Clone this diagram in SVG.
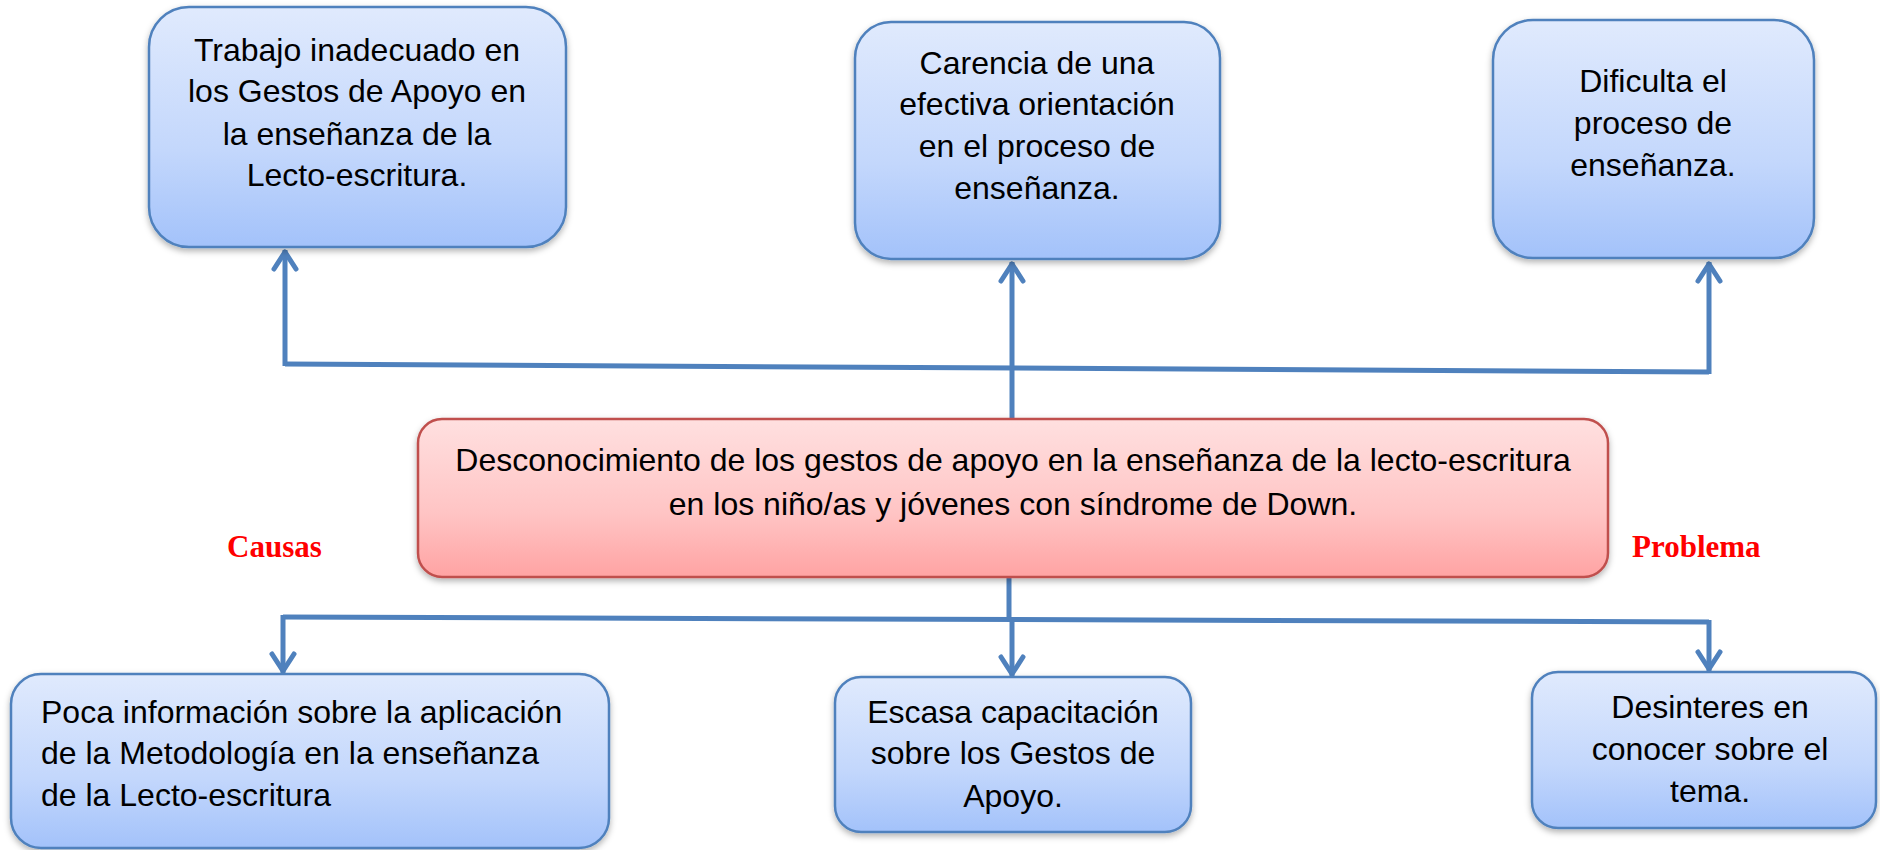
<svg xmlns="http://www.w3.org/2000/svg" width="1880" height="850" viewBox="0 0 1880 850">
<style>
.box{fill:url(#gBlue);stroke:#4F81BD;stroke-width:2.5;filter:url(#sh)}
.pbox{fill:url(#gPink);stroke:#C0504D;stroke-width:2.5;filter:url(#sh)}
.t{font-family:"Liberation Sans",Arial,sans-serif;font-size:32px;fill:#000}
.c{text-anchor:middle}
.lbl{font-family:"Liberation Serif","Times New Roman",serif;font-size:31px;font-weight:bold;fill:#FF0000}
.con{fill:none;stroke:#4F81BD;stroke-width:5;stroke-linecap:butt}
.arr{marker-end:url(#ah)}
</style>
<defs>
<linearGradient id="gBlue" x1="0" y1="0" x2="0" y2="1">
<stop offset="0" stop-color="#E0EAFD"/>
<stop offset="0.6" stop-color="#C3D7FC"/>
<stop offset="1" stop-color="#A3C2FA"/>
</linearGradient>
<linearGradient id="gPink" x1="0" y1="0" x2="0" y2="1">
<stop offset="0" stop-color="#FFE0E0"/>
<stop offset="0.6" stop-color="#FFC4C4"/>
<stop offset="1" stop-color="#FFA3A3"/>
</linearGradient>
<filter id="sh" x="-5%" y="-5%" width="110%" height="120%">
<feDropShadow dx="0" dy="3" stdDeviation="3" flood-color="#000" flood-opacity="0.3"/>
</filter>
<marker id="ah" markerUnits="userSpaceOnUse" markerWidth="30" markerHeight="30" viewBox="-25 -15 30 30" refX="0" refY="0" orient="auto">
<path d="M-19,-11 L-2,0 L-19,11" fill="none" stroke="#4F81BD" stroke-width="5" stroke-linecap="round" stroke-linejoin="round"/>
</marker>
</defs>
<rect width="1880" height="850" fill="#FFFFFF"/>

<g id="connectors">
<polyline class="con" points="285,364 1709,372"/>
<line class="con arr" x1="285" y1="366" x2="285" y2="250"/>
<line class="con arr" x1="1012" y1="419" x2="1012" y2="262"/>
<line class="con arr" x1="1709" y1="374" x2="1709" y2="262"/>
<line class="con" x1="1009" y1="577" x2="1009" y2="619"/>
<polyline class="con" points="283,617 1709,622"/>
<line class="con arr" x1="283" y1="615" x2="283" y2="673"/>
<line class="con arr" x1="1012" y1="619" x2="1012" y2="676"/>
<line class="con arr" x1="1709" y1="620" x2="1709" y2="671"/>
</g>

<g id="n_trabajo">
<rect class="box" x="149" y="7" width="417" height="240" rx="40"/>
<text class="t c" x="357" y="61">Trabajo inadecuado en</text>
<text class="t c" x="357" y="102">los Gestos de Apoyo en</text>
<text class="t c" x="357" y="145">la enseñanza de la</text>
<text class="t c" x="357" y="186">Lecto-escritura.</text>
</g>

<g id="n_carencia">
<rect class="box" x="855" y="22" width="365" height="237" rx="36"/>
<text class="t c" x="1037" y="74">Carencia de una</text>
<text class="t c" x="1037" y="115">efectiva orientación</text>
<text class="t c" x="1037" y="157">en el proceso de</text>
<text class="t c" x="1037" y="199">enseñanza.</text>
</g>

<g id="n_dificulta">
<rect class="box" x="1493" y="20" width="321" height="238" rx="40"/>
<text class="t c" x="1653" y="92">Dificulta el</text>
<text class="t c" x="1653" y="134">proceso de</text>
<text class="t c" x="1653" y="176">enseñanza.</text>
</g>

<g id="n_problema">
<rect class="pbox" x="418" y="419" width="1190" height="158" rx="24"/>
<text class="t c" x="1013" y="471">Desconocimiento de los gestos de apoyo en la enseñanza de la lecto-escritura</text>
<text class="t c" x="1013" y="515">en los niño/as y jóvenes con síndrome de Down.</text>
</g>

<g id="lbl_causas">
<text class="lbl" x="227" y="557">Causas</text>
</g>
<g id="lbl_problema">
<text class="lbl" x="1632" y="557">Problema</text>
</g>

<g id="n_poca">
<rect class="box" x="11" y="674" width="598" height="174" rx="30"/>
<text class="t" x="41" y="723">Poca información sobre la aplicación</text>
<text class="t" x="41" y="764">de la Metodología en la enseñanza</text>
<text class="t" x="41" y="806">de la Lecto-escritura</text>
</g>

<g id="n_escasa">
<rect class="box" x="835" y="677" width="356" height="155" rx="26"/>
<text class="t c" x="1013" y="723">Escasa capacitación</text>
<text class="t c" x="1013" y="764">sobre los Gestos de</text>
<text class="t c" x="1013" y="807">Apoyo.</text>
</g>

<g id="n_desinteres">
<rect class="box" x="1532" y="672" width="344" height="156" rx="26"/>
<text class="t c" x="1710" y="718">Desinteres en</text>
<text class="t c" x="1710" y="760">conocer sobre el</text>
<text class="t c" x="1710" y="802">tema.</text>
</g>
</svg>
